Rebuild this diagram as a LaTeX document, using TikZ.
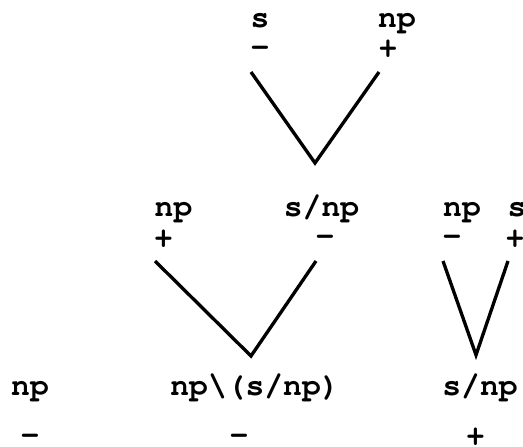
\documentclass[tikz,border=0pt]{standalone}
\usepackage[T1]{fontenc}
\renewcommand{\ttdefault}{pcr}
\usetikzlibrary{positioning}

\begin{document}
\begin{tikzpicture}[
    x=0.75pt, y=-0.75pt,
    lbl/.style={anchor=base, inner sep=0pt,
      font=\ttfamily\bfseries\fontsize{23.5}{26}\selectfont},
    branch/.style={line width=2.5pt}
    ]
    \useasboundingbox (0,0) rectangle (523,446);

    % topo
    \node[lbl] (ts)  at (260,27) {s};
    \node[lbl] (tnp) at (397,27) {np};
    \node[lbl] (tsm) at (260,56) {-};
    \node[lbl] (tsp) at (388,57) {+};
    \coordinate (tl) at (251,72);
    \coordinate (tv) at (315,163);
    \coordinate (tr) at (379,72);
    \draw[branch] (tl) -- (tv) -- (tr);

    % meio
    \node[lbl] (mnp)  at (173.5,216) {np};
    \node[lbl] (msnp) at (321.5,216) {s/np};
    \node[lbl] (mnpp) at (163.5,247) {+};
    \node[lbl] (msnpm) at (325,245) {-};
    \coordinate (ml) at (155,261);
    \coordinate (mv) at (251,356);
    \coordinate (mr) at (316,261);
    \draw[branch] (ml) -- (mv) -- (mr);

    % direita
    \node[lbl] (rnp)  at (462,216) {np};
    \node[lbl] (rs)   at (517,216) {s};
    \node[lbl] (rnpm) at (452,245) {-};
    \node[lbl] (rsp)  at (515,247) {+};
    \coordinate (rl) at (443,261);
    \coordinate (rv) at (476,355);
    \coordinate (rr) at (508,261);
    \draw[branch] (rl) -- (rv) -- (rr);

    % base
    \node[lbl] (bnp)   at (30,395)  {np};
    \node[lbl] (bmid)  at (255,395) {np\textbackslash(s/np)};
    \node[lbl] (bsnp)  at (480,395) {s/np};
    \node[lbl] (bnpm)  at (30,444)  {-};
    \node[lbl] (bmidm) at (239,444) {-};
    \node[lbl] (bsnpp) at (475.5,445) {+};

\end{tikzpicture}
\end{document}
